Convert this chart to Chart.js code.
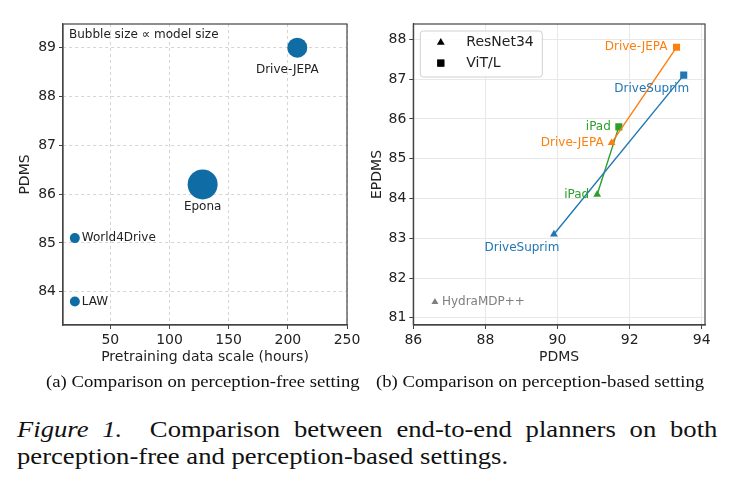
<!DOCTYPE html>
<html>
<head>
<meta charset="utf-8">
<script src="https://cdn.jsdelivr.net/npm/chart.js@4.4.1/dist/chart.umd.min.js"></script>
<style>
  html, body { margin: 0; padding: 0; background: #fff; }
  body { width: 735px; height: 489px; position: relative; overflow: hidden; }
  canvas { position: absolute; top: 0; }
  #left-chart  { left: 0; }
  #right-chart { left: 365px; }
  .sub-cap {
    position: absolute; top: 372px; line-height: 20px; white-space: nowrap;
    font: 17px "Liberation Serif", "Times New Roman", serif; color: #111;
    transform: scaleX(1.1); transform-origin: left center;
  }
  .fig-cap {
    position: absolute; left: 17px; width: 631px; line-height: 27.3px;
    font: 24px "Liberation Serif", "Times New Roman", serif; color: #111;
    transform: scaleX(1.11); transform-origin: left top;
  }
  .fig-cap .l1 { text-align: justify; text-align-last: justify; white-space: nowrap; }
</style>
</head>
<body>
<canvas id="left-chart" width="365" height="375"></canvas>
<canvas id="right-chart" width="370" height="375"></canvas>
<div class="sub-cap" style="left:46px">(a) Comparison on perception-free setting</div>
<div class="sub-cap" style="left:376px">(b) Comparison on perception-based setting</div>
<div class="fig-cap" style="top:416px">
  <div class="l1"><i>Figure 1.</i>&nbsp; Comparison between end-to-end planners on both</div>
  <div>perception-free and perception-based settings.</div>
</div>

<script>
'use strict';

/* ── Data: (a) perception-free ─────────────────────────────── */
const freeNames  = ['Drive-JEPA', 'Epona', 'World4Drive', 'LAW'];
const freeHours  = [208, 128, 20, 20];
const freePdms   = [89.0, 86.2, 85.1, 83.8];
const freeRadius = [10, 15, 5, 5];          // bubble size ∝ model size
const freeXTicks = [50, 100, 150, 200, 250];
const freeYTicks = [84, 85, 86, 87, 88, 89];

/* ── Data: (b) perception-based ────────────────────────────── */
const methods     = ['DriveSuprim', 'Drive-JEPA', 'iPad'];
const resnetPdms  = [89.9, 91.5, 91.1];
const resnetEpdms = [83.1, 85.4, 84.1];
const vitPdms     = [93.5, 93.3, 91.7];
const vitEpdms    = [87.1, 87.8, 85.8];
const hydraPdms   = [86.6];
const hydraEpdms  = [81.4];
const basedXTicks = [86, 88, 90, 92, 94];
const basedYTicks = [81, 82, 83, 84, 85, 86, 87, 88];

/* ── Styles ────────────────────────────────────────────────── */
const FONT      = '"DejaVu Sans", Verdana, sans-serif';
const INK       = '#222';
const FRAME     = '#444';
const BUBBLE    = '#0f6ca5';
const COLORS    = ['#1f77b4', '#ff7f0e', '#2ca02c'];
const GREY      = '#7f7f7f';

// label placement per point: [dx, dy, align]
const freeLabelPos = [[-10, 22, 'center'], [0, 22, 'center'], [7, 0, 'left'], [7, 0, 'left']];
const basedLabelPos = {
  resnet: [[-32, 14, 'center'], [-8, 0, 'right'], [-8, 0, 'right']],
  vit:    [[-32, 14, 'center'], [-9, 0, 'right'], [-8, 0, 'right']],
};

/* ── Shared plugins ────────────────────────────────────────── */
const framePlugin = {
  id: 'frame',
  afterDraw(ch) {
    const a = ch.chartArea, c = ch.ctx;
    c.save();
    c.strokeStyle = FRAME;
    c.lineWidth = 1.2;
    c.strokeRect(a.left, a.top, a.right - a.left, a.bottom - a.top);
    c.restore();
  }
};

// Draws text next to data points; each dataset may carry `labels` + `labelPos` + `labelColor`
const pointLabelPlugin = {
  id: 'pointLabels',
  afterDatasetsDraw(ch) {
    const c = ch.ctx;
    c.save();
    c.font = '12px ' + FONT;
    c.textBaseline = 'middle';
    ch.data.datasets.forEach((ds, i) => {
      if (!ds.labels) return;
      const meta = ch.getDatasetMeta(i);
      meta.data.forEach((pt, j) => {
        const [dx, dy, align] = ds.labelPos[j];
        c.fillStyle = ds.labelColor || INK;
        c.textAlign = align;
        c.fillText(ds.labels[j], pt.x + dx, pt.y + dy);
      });
    });
    c.restore();
  }
};

function axis(ticks, min, max, title, extra) {
  return Object.assign({
    type: 'linear',
    min, max,
    afterBuildTicks: s => { s.ticks = ticks.map(v => ({ value: v })); },
    ticks: { color: INK, font: { size: 14, family: FONT }, padding: 3 },
    title: { display: true, text: title, color: INK, font: { size: 14, family: FONT } },
    border: { display: true, color: FRAME, width: 1.2 },
  }, extra);
}

/* ── (a) Bubble chart ──────────────────────────────────────── */
const freeNote = {
  id: 'freeNote',
  afterDraw(ch) {
    const c = ch.ctx, a = ch.chartArea;
    c.save();
    c.font = '12px ' + FONT;
    c.fillStyle = INK;
    c.textBaseline = 'middle';
    c.fillText('Bubble size ∝ model size', a.left + 6, a.top + 11);
    c.restore();
  }
};

const leftGrid = { color: '#d4d4d4', tickColor: FRAME, tickLength: 4 };

new Chart(document.getElementById('left-chart'), {
  type: 'bubble',
  data: {
    datasets: [{
      data: freeNames.map((_, i) => ({ x: freeHours[i], y: freePdms[i], r: freeRadius[i] })),
      backgroundColor: BUBBLE,
      borderColor: BUBBLE,
      borderWidth: 0,
      labels: freeNames,
      labelPos: freeLabelPos,
    }]
  },
  plugins: [framePlugin, pointLabelPlugin, freeNote],
  options: {
    responsive: false,
    animation: false,
    layout: { padding: { left: 0, right: 18, top: 24, bottom: 0 } },
    plugins: { legend: { display: false }, tooltip: { enabled: false } },
    scales: {
      x: axis(freeXTicks, 10, 250, 'Pretraining data scale (hours)', {
        position: 'bottom',
        grid: leftGrid,
        border: { display: true, color: FRAME, width: 1.2, dash: [3, 3] },
        title: { display: true, text: 'Pretraining data scale (hours)', color: INK,
                 font: { size: 14, family: FONT }, padding: { bottom: 9 } },
        afterFit: s => { s.height = 50; },
      }),
      y: axis(freeYTicks, 83.32, 89.485, 'PDMS', {
        position: 'left',
        grid: leftGrid,
        border: { display: true, color: FRAME, width: 1.2, dash: [3, 3] },
        title: { display: true, text: 'PDMS', color: INK,
                 font: { size: 14, family: FONT }, padding: { top: 17 } },
        afterFit: s => { s.width = 63; },
      }),
    }
  }
});

/* ── (b) Line/scatter chart ────────────────────────────────── */
const legendBox = {
  id: 'legendBox',
  afterDraw(ch) {
    const c = ch.ctx, a = ch.chartArea;
    const x = a.left + 7, y = a.top + 7, w = 122, h = 46;
    c.save();
    c.beginPath();
    c.roundRect(x, y, w, h, 3);
    c.fillStyle = 'rgba(255,255,255,0.85)';
    c.fill();
    c.strokeStyle = '#d0d0d0';
    c.lineWidth = 1;
    c.stroke();
    const rows = [['triangle', 'ResNet34'], ['rect', 'ViT/L']];
    rows.forEach(([style, text], k) => {
      const ry = a.top + 18.5 + k * 20.6;
      Chart.helpers.drawPoint(c, { pointStyle: style, radius: style === 'rect' ? 5 : 4.5,
        borderWidth: 0, rotation: 0 }, a.left + 27.5, ry);
      c.fillStyle = '#000';
      c.fill();
      c.font = '14px ' + FONT;
      c.fillStyle = INK;
      c.textBaseline = 'middle';
      c.textAlign = 'left';
      c.fillText(text, a.left + 53, ry);
    });
    c.restore();
  }
};

const methodSets = methods.map((name, i) => ({
  data: [{ x: resnetPdms[i], y: resnetEpdms[i] }, { x: vitPdms[i], y: vitEpdms[i] }],
  showLine: true,
  borderColor: COLORS[i],
  backgroundColor: COLORS[i],
  borderWidth: 1.4,
  pointStyle: ['triangle', 'rect'],
  pointRadius: [4.5, 5],
  pointBorderWidth: 0,
  labels: [name, name],
  labelPos: [basedLabelPos.resnet[i], basedLabelPos.vit[i]],
  labelColor: COLORS[i],
}));

const hydraSet = {
  data: hydraPdms.map((v, i) => ({ x: v, y: hydraEpdms[i] })),
  showLine: false,
  borderColor: GREY,
  backgroundColor: GREY,
  pointStyle: 'triangle',
  pointRadius: 4,
  pointBorderWidth: 0,
  labels: ['HydraMDP++'],
  labelPos: [[7, 0, 'left']],
  labelColor: GREY,
};

const rightGrid = { color: '#e8e8e8', tickColor: FRAME, tickLength: 4 };

new Chart(document.getElementById('right-chart'), {
  type: 'scatter',
  data: { datasets: [...methodSets, hydraSet] },
  plugins: [framePlugin, pointLabelPlugin, legendBox],
  options: {
    responsive: false,
    animation: false,
    layout: { padding: { left: 0, right: 30, top: 24, bottom: 0 } },
    plugins: { legend: { display: false }, tooltip: { enabled: false } },
    scales: {
      x: axis(basedXTicks, 86, 94.09, 'PDMS', {
        position: 'bottom',
        grid: rightGrid,
        title: { display: true, text: 'PDMS', color: INK,
                 font: { size: 14, family: FONT }, padding: { bottom: 9 } },
        afterFit: s => { s.height = 50; },
      }),
      y: axis(basedYTicks, 80.82, 88.385, 'EPDMS', {
        position: 'left',
        grid: rightGrid,
        title: { display: true, text: 'EPDMS', color: INK,
                 font: { size: 14, family: FONT }, padding: { top: 4 } },
        afterFit: s => { s.width = 48.3; },
      }),
    }
  }
});
</script>
</body>
</html>
